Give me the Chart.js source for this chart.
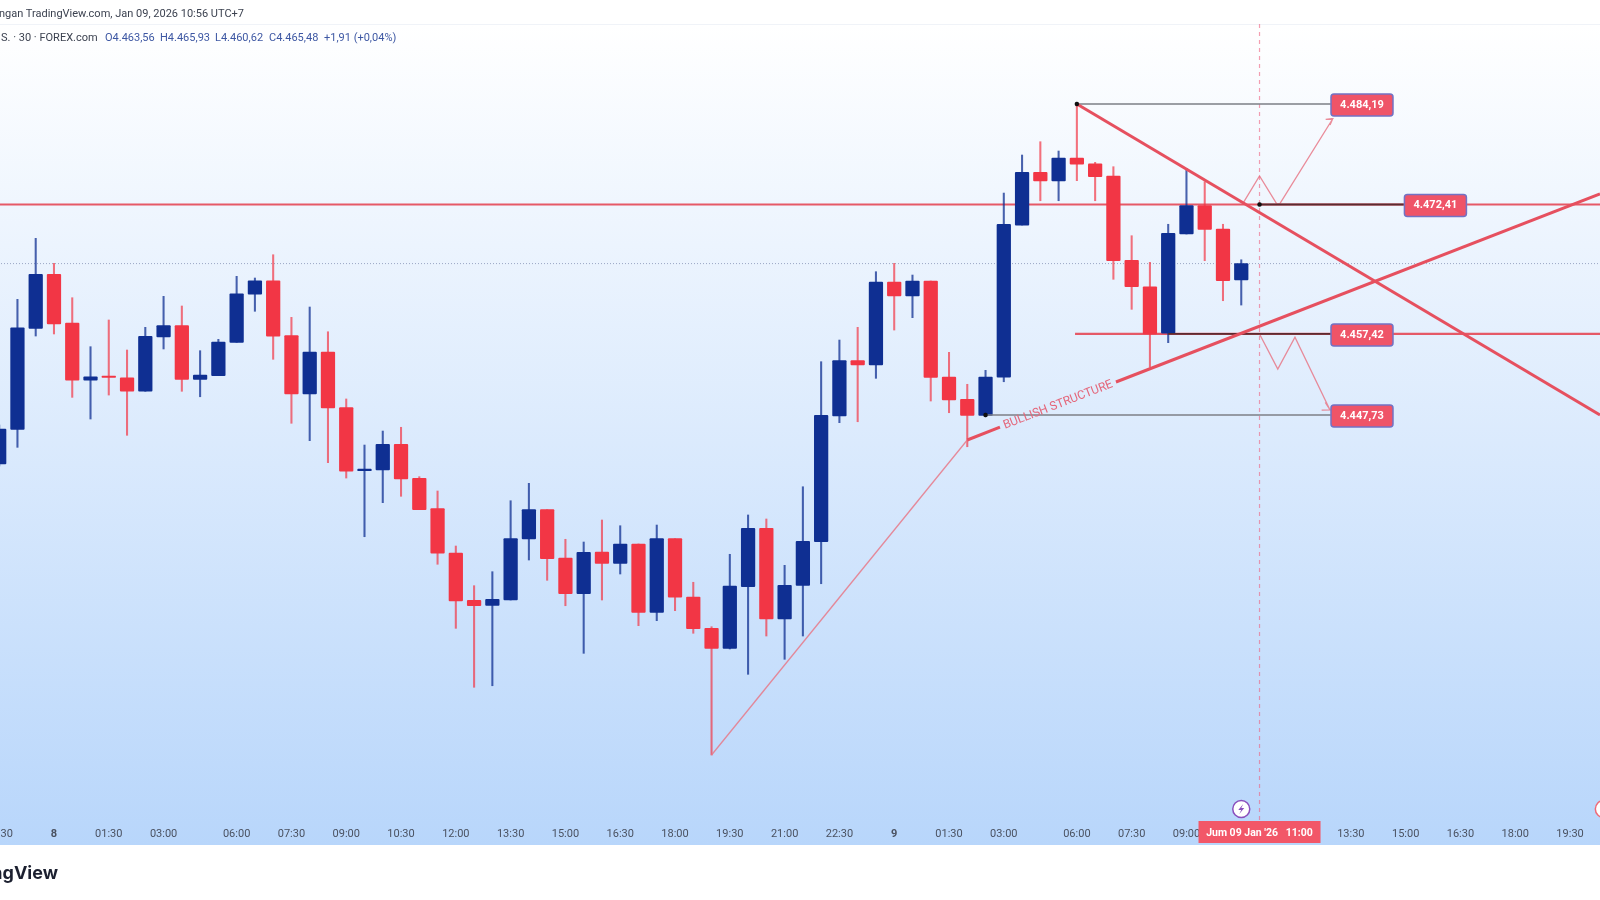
<!DOCTYPE html>
<html>
<head>
<meta charset="utf-8">
<title>TradingView chart</title>
<script src="https://cdn.jsdelivr.net/npm/chart.js@4/dist/chart.umd.min.js"></script>
<style>
  html, body { margin: 0; padding: 0; background: #fff; overflow: hidden; }
  #stage { position: relative; width: 1600px; height: 900px; overflow: hidden; background: #fff; filter: blur(0.6px); }
  #plotBg { position: absolute; left: 0; top: 24px; width: 1600px; height: 821px; border-top: 1px solid #f0f3f8; box-sizing: border-box;
    background: linear-gradient(#ffffff 0%, #b8d6fb 100%); }
  #chartBox { position: absolute; left: -20px; top: 0; }
  .txt { position: absolute; white-space: nowrap; font-family: Roboto, sans-serif; font-size: 11px; line-height: 14px; }
  .dark { color: #3c4250; }
  .blue { color: #3d57a3; }
  #brand { right: 1542px; top: 862px; font-family: Inter, sans-serif; font-size: 18px; line-height: 22px; font-weight: 700; color: #1c2030; }
</style>
</head>
<body>
<div id="stage">
  <div id="plotBg"></div>
  <div id="chartBox"><canvas id="chartCandle" width="1620" height="900"></canvas></div>
  <div class="txt dark" style="right:1356px;top:7px">Diterbitkan dengan TradingView.com, Jan 09, 2026 10:56 UTC+7</div>
  <div class="txt dark" style="left:1px;top:31px">S. · 30 · FOREX.com</div>
  <div class="txt blue" style="left:105px;top:31px">O4.463,56</div>
  <div class="txt blue" style="left:160px;top:31px">H4.465,93</div>
  <div class="txt blue" style="left:215px;top:31px">L4.460,62</div>
  <div class="txt blue" style="left:269px;top:31px">C4.465,48</div>
  <div class="txt blue" style="left:324px;top:31px">+1,91 (+0,04%)</div>
  <div class="txt" id="brand">TradingView</div>
</div>

<script>
// candles, one per 30 min
const opens = [4441.99,4446.05,4457.89,4464.22,4458.51,4451.80,4452.30,4452.10,4450.51,4456.87,
  4458.20,4451.91,4452.34,4456.25,4461.91,4463.47,4457.03,4450.19,4455.12,4448.61,
  4441.20,4441.28,4444.29,4440.31,4436.75,4431.55,4426.01,4425.42,4426.04,4433.19,
  4436.63,4430.97,4426.78,4431.67,4430.34,4432.61,4424.60,4433.23,4426.39,4422.72,
  4420.38,4427.60,4434.45,4423.81,4427.76,4432.88,4447.61,4454.10,4453.59,4463.32,
  4461.68,4463.44,4452.18,4449.57,4447.69,4452.18,4470.00,4476.18,4475.16,4477.86,
  4477.19,4475.75,4465.86,4462.77,4457.31,4468.95,4472.27,4469.53,4463.56];
const highs = [4446.56,4461.29,4468.44,4465.51,4461.48,4455.74,4458.87,4455.35,4458.01,4461.64,
  4460.51,4455.27,4456.60,4463.99,4463.79,4466.52,4459.18,4460.39,4457.49,4449.61,
  4444.21,4445.85,4446.29,4440.50,4438.82,4432.37,4427.72,4429.36,4437.68,4439.72,
  4436.63,4433.16,4432.84,4435.42,4434.75,4432.61,4434.83,4433.23,4428.12,4422.91,
  4431.40,4436.01,4435.54,4430.11,4439.32,4453.98,4456.52,4458.01,4464.53,4465.51,
  4464.14,4463.44,4455.08,4451.33,4452.97,4473.75,4478.21,4479.77,4478.68,4484.19,
  4477.35,4476.84,4468.75,4465.63,4470.09,4476.65,4475.08,4470.09,4465.93];
const lows = [4441.75,4443.94,4456.99,4457.23,4449.80,4447.26,4450.07,4445.35,4450.51,4455.47,
  4450.51,4449.87,4452.34,4456.25,4459.89,4454.26,4446.76,4444.72,4442.14,4440.34,
  4433.46,4437.45,4438.20,4436.63,4430.23,4422.72,4415.81,4415.99,4426.04,4430.73,
  4428.35,4425.37,4419.79,4426.04,4429.09,4423.03,4423.62,4424.79,4422.14,4407.87,
  4420.30,4417.33,4421.82,4419.09,4421.82,4427.95,4446.83,4446.94,4452.03,4457.69,
  4459.14,4449.37,4448.00,4444.01,4447.53,4451.63,4470.00,4472.85,4472.85,4475.20,
  4472.85,4463.64,4460.12,4453.32,4456.21,4468.95,4465.82,4461.13,4460.62];
const closes = [4446.09,4457.96,4464.22,4458.40,4451.80,4452.22,4452.15,4450.51,4456.96,4458.20,
  4451.91,4452.42,4456.29,4461.95,4463.47,4456.96,4450.19,4455.12,4448.55,4441.16,
  4441.40,4444.29,4440.23,4436.63,4431.52,4425.92,4425.37,4426.12,4433.23,4436.63,
  4430.88,4426.78,4431.63,4430.34,4432.61,4424.60,4433.23,4426.36,4422.68,4420.38,
  4427.68,4434.45,4423.81,4427.76,4432.92,4447.69,4454.10,4453.59,4463.32,4461.68,
  4463.44,4452.15,4449.49,4447.69,4452.18,4470.09,4476.18,4475.16,4477.86,4477.15,
  4475.67,4465.82,4462.77,4457.23,4469.03,4472.27,4469.50,4463.47,4465.48];

// time axis
const tickPos = [0,3,6,9,13,16,19,22,25,28,31,34,37,40,43,46,49,52,55,59,62,65,74,77,80,83,86];
const tickLabels = ['22:30','8','01:30','03:00','06:00','07:30','09:00','10:30','12:00','13:30','15:00','16:30','18:00',
  '19:30','21:00','22:30','9','01:30','03:00','06:00','07:30','09:00','13:30','15:00','16:30','18:00','19:30'];
const dayLabels = ['8','9'];

// price levels and their tags
const lastPrice = 4465.48;
const levelPrices = [4484.19, 4472.41, 4457.23, 4447.73];
const levelTexts = ['4.484,19', '4.472,41', '4.457,42', '4.447,73'];
const levelTagPos = [74.61, 78.63, 74.61, 74.61];
const levelStart = [59, 69, 64, 54];
const levelEnd = [72.9, 76.9, 72.9, 72.9];

// drawings, in candle index and price
const supportLine = [{x:58.9,y:4457.23},{x:89,y:4457.23}];
const downTrend = [{x:59,y:4484.19},{x:87.64,y:4447.73}];
const upTrendA = [{x:53,y:4444.80},{x:54.79,y:4446.32}];
const upTrendB = [{x:61.14,y:4451.60},{x:87.64,y:4473.64}];
const swingLine = [{x:39,y:4407.87},{x:53,y:4444.80}];
const upPath = [{x:68.1,y:4472.58},{x:69,y:4475.75},{x:69.95,y:4472.47},{x:70.1,y:4472.47},{x:73,y:4482.43},
  {x:72.62,y:4482.39},{x:73,y:4482.43},{x:72.86,y:4481.73}];
const downPath = [{x:69,y:4457.23},{x:70,y:4453.12},{x:70.94,y:4456.84},{x:72.86,y:4448.32},
  {x:72.6,y:4449.2},{x:72.86,y:4448.32},{x:72.4,y:4448.3}];
const anchorDots = [{x:59,y:4484.19},{x:69,y:4472.41},{x:54,y:4447.73}];
const structureText = 'BULLISH STRUCTURE';
const structurePos = {x:57.97,y:4448.9};

// cursor and event marks
const cursorPos = 69;
const cursorText = "Jum 09 Jan '26   11:00";
const eventPos = [68, 87.85];
const eventColors = ['#8a4fbd', '#ef6a78'];

const yMin = 4400.25;
const yMax = 4493.57;
const xMin = -1.05;
const xMax = 87.64;

const blue = '#0f2f92';
const red = '#f23645';

function roundRect (c, x, y, w, h, r) {
  c.beginPath();
  c.roundRect(x, y, w, h, r);
}

// tags, rotated text, cursor box and event marks on top of the chart
const overlay = {
  id: 'overlay',
  afterDatasetsDraw (chart) {
    const c = chart.ctx;
    const sx = chart.scales.x;
    const sy = chart.scales.y;
    c.save();

    c.font = '12px Roboto, sans-serif';
    c.fillStyle = '#e4667a';
    c.textAlign = 'center';
    c.textBaseline = 'middle';
    c.save();
    c.translate(sx.getPixelForValue(structurePos.x), sy.getPixelForValue(structurePos.y));
    c.rotate(-Math.atan(0.388));
    c.fillText(structureText, 0, 0);
    c.restore();

    levelTexts.forEach((t, i) => {
      const px = sx.getPixelForValue(levelTagPos[i]);
      const py = sy.getPixelForValue(levelPrices[i]) + 1;
      roundRect(c, px - 31, py - 11, 62, 22, 3);
      c.fillStyle = '#ef5468';
      c.fill();
      c.strokeStyle = '#7372c4';
      c.lineWidth = 1.5;
      c.stroke();
      c.fillStyle = '#ffffff';
      c.font = 'bold 11px Roboto, sans-serif';
      c.fillText(t, px, py);
    });

    eventPos.forEach((p, i) => {
      const px = sx.getPixelForValue(p);
      const py = chart.chartArea.bottom - 11;
      c.beginPath();
      c.arc(px, py, 8.5, 0, Math.PI * 2);
      c.fillStyle = '#ffffff';
      c.fill();
      c.strokeStyle = eventColors[i];
      c.lineWidth = 1.5;
      c.stroke();
      c.beginPath();
      c.moveTo(px + 2, py - 5);
      c.lineTo(px - 3, py + 1);
      c.lineTo(px, py + 1);
      c.lineTo(px - 2, py + 5);
      c.lineTo(px + 3, py - 1);
      c.lineTo(px, py - 1);
      c.closePath();
      c.fillStyle = eventColors[i];
      c.fill();
    });
    c.restore();
  },
  afterDraw (chart) {
    const c = chart.ctx;
    const px = chart.scales.x.getPixelForValue(cursorPos);
    const top = chart.chartArea.bottom + 1;
    c.save();
    c.fillStyle = '#f25768';
    c.fillRect(px - 61, top, 122, 22);
    c.fillStyle = '#ffffff';
    c.font = 'bold 10.5px Roboto, sans-serif';
    c.textAlign = 'center';
    c.textBaseline = 'middle';
    c.fillText(cursorText, px, top + 12);
    c.restore();
  }
};

function line (data, color, width, order, extra) {
  return Object.assign({
    type: 'line', data: data, borderColor: color, borderWidth: width,
    pointRadius: 0, fill: false, tension: 0, order: order
  }, extra || {});
}

function chartCandle () {
  const idx = opens.map((v, i) => i);
  const colors = idx.map(i => closes[i] >= opens[i] ? blue : red);
  const wickColors = idx.map(i => closes[i] >= opens[i] ? 'rgba(15,47,146,0.75)' : 'rgba(242,54,69,0.7)');

  const datasets = [
    line([{x:xMin,y:lastPrice},{x:xMax,y:lastPrice}], '#9aa6c4', 1, 9, {borderDash: [1, 2]}),
    line([{x:xMin,y:levelPrices[1]},{x:xMax,y:levelPrices[1]}], 'rgba(228,72,86,0.9)', 2.2, 8),
    line(supportLine, 'rgba(228,72,86,0.9)', 2.2, 8),
    {
      type: 'bar', grouped: false, order: 5, barThickness: 1.4,
      data: idx.map(i => ({x: i, y: [lows[i], highs[i]]})),
      backgroundColor: wickColors
    },
    {
      type: 'bar', grouped: false, order: 4, barThickness: 13.6, borderRadius: 1, borderSkipped: false,
      data: idx.map(i => ({x: i, y: [opens[i], closes[i]]})),
      backgroundColor: colors
    },
    line([{x:cursorPos,y:yMin},{x:cursorPos,y:yMax}], 'rgba(239,95,125,0.6)', 1.2, 3, {borderDash: [4, 4]}),
    line(swingLine, 'rgba(232,120,135,0.85)', 1.3, 3),
    line(upPath, 'rgba(232,120,135,0.85)', 1.3, 3),
    line(downPath, 'rgba(232,120,135,0.85)', 1.3, 3)
  ];
  levelPrices.forEach((p, i) => {
    const dark = i === 1 || i === 2;
    datasets.push(line([{x:levelStart[i],y:p},{x:levelEnd[i],y:p}], dark ? '#5a2b30' : '#7c7f86', dark ? 1.8 : 1.6, 2));
  });
  datasets.push(
    line(downTrend, '#e6505f', 3, 1),
    line(upTrendA, '#e6505f', 3, 1),
    line(upTrendB, '#e6505f', 3, 1),
    {type: 'scatter', data: anchorDots, backgroundColor: '#111111', pointRadius: 2.2, order: 0}
  );

  new Chart(document.getElementById('chartCandle'), {
    type: 'bar',
    data: { datasets: datasets },
    options: {
      responsive: false,
      animation: false,
      events: [],
      devicePixelRatio: 1,
      layout: { autoPadding: false, padding: { top: 24, left: 0, right: 0, bottom: 0 } },
      plugins: { legend: { display: false }, tooltip: { enabled: false } },
      scales: {
        x: {
          type: 'linear',
          offset: false,
          min: xMin,
          max: xMax,
          grid: { display: false, drawTicks: false, offset: false },
          border: { display: false },
          afterBuildTicks (axis) { axis.ticks = tickPos.map(v => ({value: v})); },
          afterFit (axis) {
            axis.height = 80;
            // keep the first and last tick labels from pulling the plot inward
            axis.paddingLeft = 0;
            axis.paddingRight = 0;
          },
          ticks: {
            autoSkip: false,
            maxRotation: 0,
            padding: 8,
            color: '#4a5160',
            font (ctx) {
              const isDay = ctx.tick && dayLabels.includes(tickLabels[tickPos.indexOf(ctx.tick.value)]);
              return { family: 'Roboto, sans-serif', size: 11, weight: isDay ? 'bold' : 'normal' };
            },
            callback (value) { return tickLabels[tickPos.indexOf(value)]; }
          }
        },
        y: { display: false, min: yMin, max: yMax, grid: { display: false } }
      }
    },
    plugins: [overlay]
  });
}

chartCandle();
</script>
</body>
</html>
